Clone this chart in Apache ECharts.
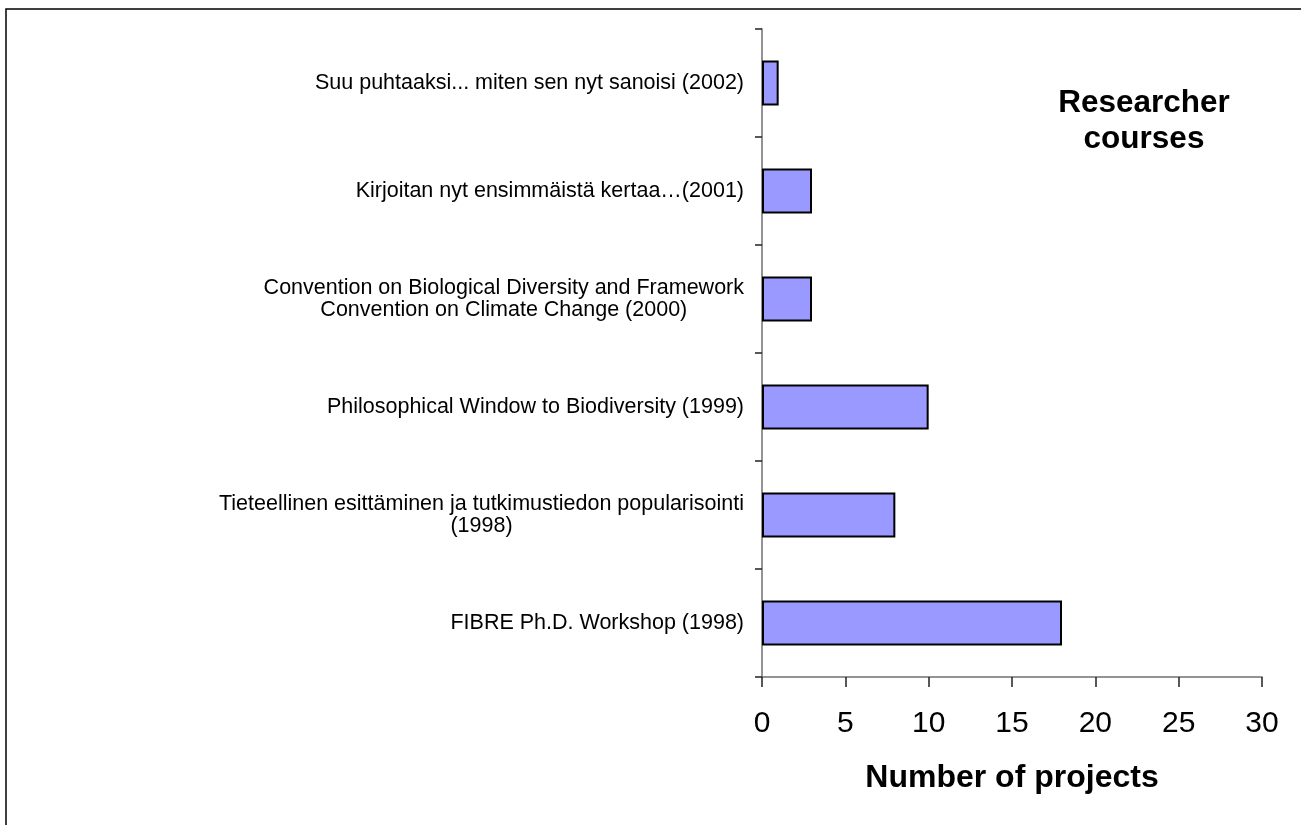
<!DOCTYPE html>
<html>
<head>
<meta charset="utf-8">
<style>
  html, body { margin: 0; padding: 0; background: #fff; }
  #chart { width: 1301px; height: 825px; }
</style>
<script src="https://cdn.jsdelivr.net/npm/echarts@6/dist/echarts.min.js"></script>
</head>
<body>
<div id="chart"></div>
<script>
// Course names, top to bottom; "\n" splits a name over two lines
const courses = [
  'Suu puhtaaksi... miten sen nyt sanoisi (2002)',
  'Kirjoitan nyt ensimmäistä kertaa…(2001)',
  'Convention on Biological Diversity and Framework\nConvention on Climate Change (2000)',
  'Philosophical Window to Biodiversity (1999)',
  'Tieteellinen esittäminen ja tutkimustiedon popularisointi\n(1998)',
  'FIBRE Ph.D. Workshop (1998)'
];
// Number of projects per course, same order
const projects = [1, 3, 3, 10, 8, 18];
// Value axis range and step
const axisMin = 0;
const axisMax = 30;
const axisStep = 5;

const FONT = 'Liberation Sans, Arial, sans-serif';
const chart = echarts.init(document.getElementById('chart'));

chart.setOption({
  backgroundColor: '#fff',
  animation: false,
  textStyle: { fontFamily: FONT },
  title: {
    text: 'Researcher\ncourses',
    left: 1139,
    top: 80,
    textAlign: 'center',
    textStyle: {
      fontFamily: FONT,
      fontSize: 31.5,
      fontWeight: 'bold',
      color: '#000',
      lineHeight: 36
    }
  },
  graphic: [{
    type: 'rect',
    shape: { x: 6, y: 9, width: 1400, height: 900 },
    style: { fill: null, stroke: '#000', lineWidth: 1.5 },
    silent: true
  }],
  grid: { left: 762, top: 29, right: 39, bottom: 148, containLabel: false },
  xAxis: {
    type: 'value',
    min: axisMin,
    max: axisMax,
    interval: axisStep,
    name: 'Number of projects',
    nameLocation: 'middle',
    nameGap: 85,
    nameTextStyle: {
      fontFamily: FONT,
      fontSize: 32,
      fontWeight: 'bold',
      color: '#000'
    },
    axisLine: { show: true, lineStyle: { color: '#707070', width: 1.5 } },
    axisTick: { show: true, length: 10, lineStyle: { color: '#222', width: 1.5 } },
    axisLabel: {
      margin: 32,
      fontSize: 30,
      color: '#000',
      fontFamily: FONT
    },
    splitLine: { show: false }
  },
  yAxis: {
    type: 'category',
    inverse: true,
    data: courses,
    axisLine: { show: true, lineStyle: { color: '#707070', width: 1.5 } },
    axisTick: { show: true, length: 7, lineStyle: { color: '#222', width: 1.5 } },
    axisLabel: {
      margin: 18,
      color: '#000',
      fontSize: 21.5,
      lineHeight: 22,
      formatter: function (v) {
        return v.split('\n').map(function (s) { return '{c|' + s + '}'; }).join('\n');
      },
      rich: {
        c: {
          align: 'center',
          fontSize: 21.5,
          lineHeight: 22,
          color: '#000',
          fontFamily: FONT
        }
      }
    }
  },
  series: [{
    type: 'bar',
    data: projects,
    barWidth: 45,
    itemStyle: { color: '#9999FF', borderColor: '#000', borderWidth: 2 }
  }]
});
</script>
</body>
</html>
